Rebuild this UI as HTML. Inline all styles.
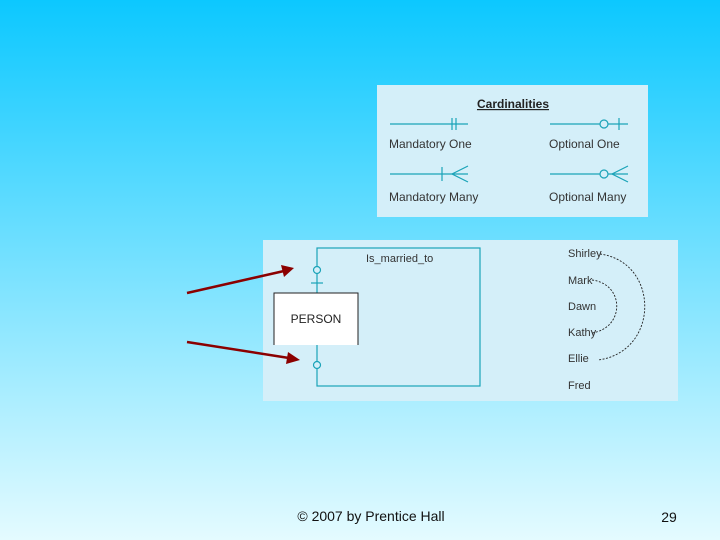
<!DOCTYPE html>
<html><head><style>
html,body{margin:0;padding:0}
body{width:720px;height:540px;overflow:hidden;background:linear-gradient(#0cc8ff,#e4fbff);font-family:"Liberation Sans",sans-serif}
svg{position:absolute;left:0;top:0}
</style></head><body>
<svg width="720" height="540" viewBox="0 0 720 540" font-family="Liberation Sans, sans-serif">
<rect x="377" y="85" width="271" height="132" fill="#d4eff9"/>
<text x="513" y="108" font-size="12" text-anchor="middle" fill="#222" font-weight="bold" text-decoration="underline">Cardinalities</text>
<g stroke="#1aa3b8" stroke-width="1.2" fill="none">
<line x1="390" y1="124" x2="468" y2="124"/><line x1="452" y1="118" x2="452" y2="130"/><line x1="456" y1="118" x2="456" y2="130"/>
<line x1="550" y1="124" x2="628" y2="124"/><circle cx="604" cy="124" r="4" fill="#d4eff9"/><line x1="619" y1="118" x2="619" y2="130"/>
<line x1="390" y1="174" x2="468" y2="174"/><line x1="442" y1="167" x2="442" y2="181"/><path d="M468 166 L452 174 L468 182"/>
<line x1="550" y1="174" x2="628" y2="174"/><circle cx="604" cy="174" r="4" fill="#d4eff9"/><path d="M628 166 L612 174 L628 182"/>
</g>
<g font-size="12" fill="#333">
<text x="389" y="148">Mandatory One</text><text x="549" y="148">Optional One</text>
<text x="389" y="201">Mandatory Many</text><text x="549" y="201">Optional Many</text>
</g>
<rect x="263" y="240" width="415" height="161" fill="#d4eff9"/>
<rect x="317" y="248" width="163" height="138" fill="none" stroke="#1aa3b8" stroke-width="1.2"/>
<text x="366" y="262" font-size="11" fill="#333">Is_married_to</text>
<rect x="274" y="293" width="84" height="52" fill="#fff"/>
<path d="M274 345 V293 H358 V345" fill="none" stroke="#222" stroke-width="1"/>
<text x="316" y="323" font-size="12" fill="#222" text-anchor="middle">PERSON</text>
<g stroke="#1aa3b8" stroke-width="1.2" fill="#d4eff9">
<circle cx="317" cy="270" r="3.5"/><line x1="311" y1="283" x2="323" y2="283"/><circle cx="317" cy="365" r="3.5"/>
</g>
<g font-size="11" fill="#333">
<text x="568" y="257">Shirley</text><text x="568" y="284">Mark</text><text x="568" y="310">Dawn</text>
<text x="568" y="336">Kathy</text><text x="568" y="362">Ellie</text><text x="568" y="389">Fred</text>
</g>
<g fill="none" stroke="#222" stroke-width="0.9" stroke-dasharray="2,1.5">
<path d="M600 254 C660 262 660 352 598 360"/>
<path d="M592 280 C625 284 625 328 592 333"/>
</g>
<g stroke="#8b0000" stroke-width="2.5" fill="#8b0000">
<line x1="187" y1="293" x2="284" y2="271"/><polygon points="294,268 281,265 284,277" stroke="none"/>
<line x1="187" y1="342" x2="289" y2="358"/><polygon points="300,360 288,352 286,364" stroke="none"/>
</g>
<text x="371" y="521" font-size="14" fill="#111" text-anchor="middle">© 2007 by Prentice Hall</text>
<text x="669" y="522" font-size="14" fill="#111" text-anchor="middle">29</text>
</svg>
</body></html>
